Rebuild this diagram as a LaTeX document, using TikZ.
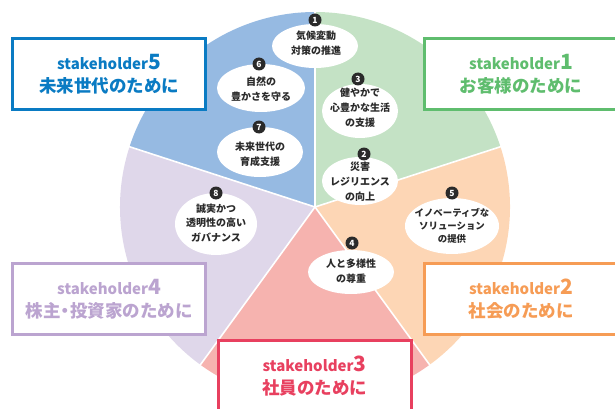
\documentclass[tikz,border=0pt]{standalone}
\usepackage{fontspec}
\setmainfont{Noto Sans CJK JP}
\usetikzlibrary{shapes.geometric}
\definecolor{secG}{HTML}{C4E2C5}
\definecolor{secO}{HTML}{FDD6B5}
\definecolor{secR}{HTML}{F6B3AF}
\definecolor{secP}{HTML}{DFD7EA}
\definecolor{secB}{HTML}{96BAE2}
\definecolor{bxB}{HTML}{0A7BC3}
\definecolor{bxG}{HTML}{5FBD6E}
\definecolor{bxO}{HTML}{F69C55}
\definecolor{bxR}{HTML}{E8405F}
\definecolor{bxP}{HTML}{BBA4D0}
\definecolor{ink}{HTML}{2A2A2A}
\begin{document}
\begin{tikzpicture}[x=1pt,y=-1pt,
  bubble/.style={ellipse,fill=white,inner sep=0pt},
  btext/.style={align=center,text=ink,font=\bfseries\fontsize{10}{14.8}\selectfont},
  num/.style={circle,fill=ink,text=white,inner sep=0pt,minimum size=13pt,font=\bfseries\fontsize{8.5}{8.5}\selectfont},
  shbox/.style={draw=#1,line width=3pt,fill=white,text=#1,align=center,inner sep=0pt,
    minimum width=193pt,minimum height=71pt,font=\bfseries\fontsize{17.5}{23}\selectfont},
  sep/.style={white,line width=1.6pt}
]
\clip (0,0) rectangle (615,409);
\useasboundingbox (0,0) rectangle (615,409);
\coordinate (c) at (315,207);
% sectors
\fill[secG] (c) -- ++(-90:195) arc[start angle=-90,end angle=-18,radius=195] -- cycle;
\fill[secO] (c) -- ++(-18:195) arc[start angle=-18,end angle=54,radius=195] -- cycle;
\fill[secR] (c) -- ++(54:195) arc[start angle=54,end angle=126,radius=195] -- cycle;
\fill[secP] (c) -- ++(126:195) arc[start angle=126,end angle=198,radius=195] -- cycle;
\fill[secB] (c) -- ++(198:195) arc[start angle=198,end angle=270,radius=195] -- cycle;
\foreach \a in {-90,-18,54,126,198} \draw[sep] (c) -- ++(\a:196);
% bubbles
\node[bubble,minimum width=86pt,minimum height=44pt] (e1) at (315,46) {};
\node[btext] (t1) at (316,43) {気候変動\\対策の推進};
\node[num] (n1) at (315,20) {1};

\node[bubble,minimum width=76pt,minimum height=54pt] (e3) at (360,111) {};
\node[btext] (t3) at (360,108) {健やかで\\心豊かな生活\\の支援};
\node[num] (n3) at (358,79) {3};

\node[bubble,minimum width=76pt,minimum height=48pt] (e2) at (360,181) {};
\node[btext] (t2) at (360,182) {災害\\レジリエンス\\の向上};
\node[num] (n2) at (364,154) {2};

\node[bubble,minimum width=94pt,minimum height=56pt] (e5) at (452,226) {};
\node[btext,font=\bfseries\fontsize{9.4}{13.2}\selectfont] (t5) at (452,226) {イノベーティブな\\ソリューション\\の提供};
\node[num] (n5) at (452,193) {5};

\node[bubble,minimum width=86pt,minimum height=44pt] (e4) at (351,272) {};
\node[btext] (t4) at (351,271) {人と多様性\\の尊重};
\node[num] (n4) at (352,243) {4};

\node[bubble,minimum width=82pt,minimum height=62pt] (e8) at (216,224) {};
\node[btext] (t8) at (216,223) {誠実かつ\\透明性の高い\\ガバナンス};
\node[num] (n8) at (216,193) {8};

\node[bubble,minimum width=86pt,minimum height=50pt] (e7) at (260,152) {};
\node[btext] (t7) at (260,154) {未来世代の\\育成支援};
\node[num] (n7) at (259,127) {7};

\node[bubble,minimum width=88pt,minimum height=48pt] (e6) at (261,88) {};
\node[btext] (t6) at (261,89) {自然の\\豊かさを守る};
\node[num] (n6) at (259,64) {6};
% stakeholder boxes
\node[shbox=bxB] (s5) at (109,74) {{\fontsize{15}{23}\selectfont stakeholder}{\fontsize{21}{23}\selectfont 5}\\未来世代のために};
\node[shbox=bxG] (s1) at (521,74) {{\fontsize{15}{23}\selectfont stakeholder}{\fontsize{21}{23}\selectfont 1}\\お客様のために};
\node[shbox=bxO] (s2) at (521,299) {{\fontsize{15}{23}\selectfont stakeholder}{\fontsize{21}{23}\selectfont 2}\\社会のために};
\node[shbox=bxP] (s4) at (109,299) {{\fontsize{15}{23}\selectfont stakeholder}{\fontsize{21}{23}\selectfont 4}\\株主\kern-4pt・\kern-4pt 投資家のために};
\node[shbox=bxR] (s3) at (314.5,376) {{\fontsize{15}{23}\selectfont stakeholder}{\fontsize{21}{23}\selectfont 3}\\社員のために};
\end{tikzpicture}
\end{document}
